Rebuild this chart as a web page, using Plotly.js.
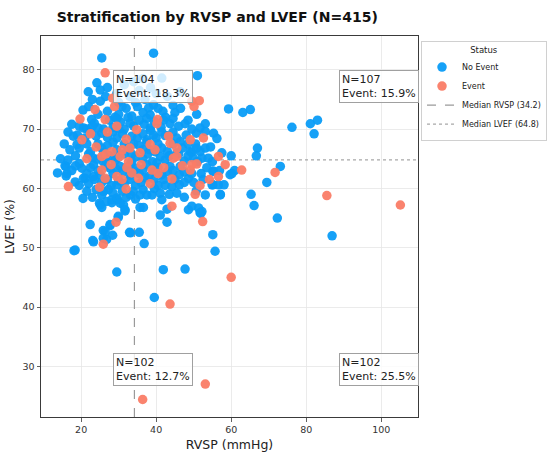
<!DOCTYPE html>
<html>
<head>
<meta charset="utf-8">
<script src="https://cdn.plot.ly/plotly-3.0.1.min.js"></script>
<style>html,body{margin:0;padding:0;background:#fff}#chart{width:550px;height:456px}</style>
</head>
<body>
<div id="chart"></div>
<script>
// ---- data (RVSP mmHg, LVEF %) ----
const noEventPoints = [
[25.5,82.0],[39.3,82.8],[24.2,77.8],[25.1,76.6],[21.9,76.3],[51.0,79.0],[41.5,78.6],[46.4,76.3],[59.3,73.4],[63.1,72.8],[65.1,73.3],[76.2,70.3],[81.1,70.9],[83.0,71.5],[82.1,69.2],[67.0,66.8],[66.7,65.5],[73.1,63.7],[69.5,61.0],[65.3,59.0],[66.1,57.1],[72.3,55.0],[86.9,52.0],[55.1,52.2],[55.7,49.4],[51.7,55.9],[57.1,59.0],[53.1,58.9],[60.2,62.5],[60.9,63.0],[55.1,62.9],[56.9,63.0],[55.1,60.6],[56.6,60.6],[58.1,60.6],[52.2,56.1],[18.4,49.6],[29.5,45.9],[41.9,46.3],[47.7,46.4],[23.1,51.2],[25.9,52.9],[27.7,53.7],[26.8,51.4],[28.4,52.1],[29.9,55.1],[22.4,53.9],[32.9,52.6],[35.5,52.6],[36.8,50.7],[35.7,56.8],[36.6,56.8],[41.1,55.5],[42.9,54.3],[42.9,56.5],[48.6,56.4],[51.3,56.7],[51.9,55.8],[24.9,57.5],[25.5,56.8],[31.3,57.2],[31.7,56.2],[28.2,57.6],[29.7,58.1],[13.7,62.6],[15.7,63.8],[16.2,62.5],[18.4,61.1],[21.1,61.7],[39.5,41.6],
[30.9,73.8],[25.1,74.7],[22.8,71.6],[20.6,70.2],[17.9,68.8],[18.9,67.4],[50.8,72.5],[39.3,74.1],[38.4,72.4],[41.8,73.0],[43.7,70.9],[47.7,70.9],[41.3,70.3],[53.1,70.9],[51.7,70.2],[50.7,69.3],[53.1,69.6],[55.3,69.3],[56.2,68.4],[42.4,68.9],[43.3,68.9],[46.4,67.9],[53.1,66.8],[45.5,66.0],[49.5,66.1],[51.7,66.2],[38.4,70.2],[39.3,69.0],
[16.0,63.7],[16.0,62.1],[20.6,61.7],[20.2,63.4],[23.3,62.0],[23.3,64.0],[24.2,64.9],[25.9,64.5],[27.7,63.4],[30.4,63.7],[33.1,64.0],[34.9,63.4],[37.5,64.0],[39.3,62.9],[29.5,60.6],[27.3,59.8],[25.5,58.9],[26.8,57.8],[28.2,58.1],[29.5,58.4],[30.4,57.5],[33.1,58.9],[33.9,59.5],[35.7,58.9],[37.5,58.9],[25.1,57.2],[27.7,53.9],[29.9,55.3],[26.4,52.7],[23.3,51.0],[25.9,51.6],[33.1,52.5],[31.7,56.4],[18.1,49.5],
[38.4,66.5],[39.7,66.2],[41.1,65.4],[42.4,64.8],[40.2,64.3],[49.1,66.2],[50.8,66.8],[49.9,65.1],[52.2,65.1],[53.9,65.1],[46.4,63.7],[43.7,63.7],[46.2,62.3],[55.3,62.9],[59.7,62.3],[48.6,61.7],[42.4,60.5],[44.2,60.3],[46.2,60.6],[54.9,60.6],[50.7,59.6],[57.1,58.9],[38.9,58.9],[41.1,59.2],[41.5,58.1],[49.5,57.0],
[27.0,77.0],[29.5,76.0],[31.5,77.5],[33.0,75.5],[35.5,76.5],[37.0,75.0],[34.0,78.0],[36.5,78.5],[38.5,77.0],[30.0,74.5],[26.5,75.5],[23.0,75.0],[43.0,75.5],[44.5,74.0],[40.0,76.0],
[20.5,73.2],[24.5,72.5],[27.0,73.0],[30.0,72.5],[32.0,73.5],[33.5,72.2],[35.0,73.8],[36.5,72.8],[38.0,73.6],[40.5,73.5],[42.5,72.0],[45.0,72.8],[46.5,73.5],[22.0,73.8],[29.0,72.0],[34.5,74.5],
[17.5,70.8],[19.5,70.5],[21.5,70.0],[23.5,71.0],[24.5,70.2],[26.0,70.0],[27.5,71.5],[28.5,70.3],[30.5,71.2],[31.5,70.0],[33.0,71.0],[34.0,70.5],[35.5,71.5],[36.8,70.8],[37.5,71.8],[39.5,71.3],[42.0,71.5],[44.5,71.8],[46.0,70.5],[48.5,71.5],[29.5,71.8],[32.5,72.0],
[16.5,69.5],[19.0,69.0],[21.0,68.5],[22.5,69.5],[24.0,68.8],[25.5,69.3],[27.0,68.6],[28.5,69.5],[29.5,68.5],[31.0,69.2],[33.5,68.8],[35.0,68.5],[36.5,69.2],[37.5,68.2],[40.0,68.5],[41.5,69.5],[44.5,69.5],[45.5,68.5],[48.0,69.0],[49.5,70.0],[23.0,70.5],[30.0,70.0],[38.5,69.8],
[15.5,67.5],[17.0,66.5],[19.5,66.8],[21.5,67.5],[22.5,66.2],[24.5,67.5],[25.5,66.8],[27.0,67.2],[28.5,67.8],[29.5,66.5],[31.5,67.5],[32.5,66.8],[34.0,67.5],[35.5,67.2],[36.5,66.5],[37.5,67.8],[40.5,67.5],[41.5,66.8],[43.0,66.2],[44.5,67.5],[47.0,66.8],[48.5,67.5],[50.5,67.5],[54.5,67.0],[26.0,66.0],[33.5,65.8],
[14.5,65.0],[16.5,64.8],[18.5,65.5],[19.5,64.2],[22.0,65.8],[23.0,65.2],[26.5,64.9],[27.5,65.5],[29.0,64.7],[29.8,65.2],[31.5,65.8],[33.5,64.5],[34.5,65.3],[36.5,65.0],[37.8,65.8],[39.0,64.5],[43.5,65.5],[46.0,65.8],[47.5,64.6],[48.5,65.5],[51.0,64.5],[55.0,64.5],[57.5,66.0],[60.0,65.5],
[17.5,63.0],[18.5,63.8],[21.5,62.5],[22.5,63.5],[24.5,63.0],[25.0,62.3],[26.5,63.8],[28.5,62.5],[29.5,63.2],[31.0,62.8],[32.0,63.5],[33.0,62.2],[34.0,62.9],[35.5,62.5],[36.5,63.2],[38.0,62.0],[40.5,63.5],[41.5,62.3],[43.0,62.8],[44.5,63.0],[47.5,62.8],[49.5,62.5],[52.0,62.5],[53.5,63.5],
[19.5,60.5],[22.0,60.8],[23.5,61.5],[25.5,61.0],[27.0,61.5],[28.0,60.5],[30.0,61.3],[31.5,60.8],[33.0,61.5],[34.5,60.5],[36.0,61.0],[37.0,61.8],[39.5,61.5],[40.5,60.5],[42.0,61.5],[45.0,61.5],[47.5,61.0],[50.0,61.0],[52.5,61.5],
[21.5,59.5],[23.0,58.5],[24.0,59.8],[26.0,59.5],[28.5,59.2],[31.0,59.5],[32.0,58.5],[34.5,58.2],[36.5,59.8],[39.5,60.0],[43.5,59.0],[45.5,59.2],[47.5,58.5],[20.5,58.3]
];
const eventPoints = [
[26.4,79.5],[28.4,75.2],[28.9,73.8],[23.7,73.3],[19.7,71.7],[26.4,71.6],[20.2,68.2],[32.0,68.3],[25.5,65.4],[26.6,65.8],[28.2,66.2],[30.4,65.4],[31.0,66.5],[21.5,65.0],[24.0,67.0],[27.0,69.5],[29.5,70.5],[22.5,69.2],[33.0,66.8],
[34.8,69.9],[35.7,66.0],[39.7,66.5],[40.4,71.6],[40.2,70.9],[44.6,65.1],[45.5,65.4],[49.5,74.7],[51.5,74.8],[50.1,73.8],[52.6,68.5],[45.5,66.8],[56.6,65.4],[43.3,68.8],[43.7,67.6],[49.1,68.2],[38.4,67.4],
[16.6,60.3],[25.9,50.6],[29.3,54.3],[32.0,59.9],[25.5,63.1],[26.4,61.7],[29.5,62.0],[30.9,61.5],[24.9,60.2],[33.5,62.6],[32.6,64.5],[32.2,63.5],[28.0,64.0],
[35.3,61.7],[38.4,60.8],[38.9,63.1],[42.0,63.5],[49.5,64.0],[50.8,64.1],[49.1,63.1],[58.4,64.0],[62.8,63.1],[54.2,61.5],[44.2,61.6],[51.7,60.5],[50.4,59.0],[44.2,57.0],[52.4,54.4],[60.0,45.0],[85.5,58.8],[105.1,57.2],[71.7,62.7],[43.7,40.5],[53.1,27.0],[36.4,24.4],[36.0,64.0],[40.5,62.5],[47.0,63.8],[56.6,62.0]
];
const medianRVSP = 34.2;
const medianLVEF = 64.8;
const quadrantLabels = ["N=104<br>Event: 18.3%", "N=107<br>Event: 15.9%", "N=102<br>Event: 12.7%", "N=102<br>Event: 25.5%"];
const xRange = [9.3, 109.8];
const yRange = [21.45, 85.7];

const FONT = "DejaVu Sans, Verdana, sans-serif";
const BLUE = "#0A9CF7";
const RED = "#FA7C66";

const data = [
  {x:[medianRVSP, medianRVSP], y:yRange, mode:"lines", name:"Median RVSP (" + medianRVSP + ")",
   line:{color:"#9a9a9a", width:1.2, dash:"dash"}, hoverinfo:"skip", legendrank:3},
  {x:xRange, y:[medianLVEF, medianLVEF], mode:"lines", name:"Median LVEF (" + medianLVEF + ")",
   line:{color:"#a8a8a8", width:1.2, dash:"dot"}, hoverinfo:"skip", legendrank:4},
  {x:noEventPoints.map(p=>p[0]), y:noEventPoints.map(p=>p[1]), mode:"markers", type:"scatter", name:"No Event",
   marker:{color:BLUE, size:9.5, opacity:0.95, line:{width:0}}, legendrank:1},
  {x:eventPoints.map(p=>p[0]), y:eventPoints.map(p=>p[1]), mode:"markers", type:"scatter", name:"Event",
   marker:{color:RED, size:9.5, opacity:0.95, line:{width:0}}, legendrank:2}
];

const annPos = [[0.19,0.912],[0.79,0.912],[0.19,0.167],[0.79,0.167]];
const annotations = quadrantLabels.map((t,i)=>({
  text:t, xref:"x domain", yref:"y domain", x:annPos[i][0], y:annPos[i][1],
  xanchor:"left", yanchor:"top", align:"left", showarrow:false,
  font:{family:FONT, size:11, color:"#222"},
  bgcolor:"rgba(255,255,255,0.8)", bordercolor:"#a0a0a0", borderwidth:1, borderpad:2
}));

const axisCommon = {
  showgrid:true, gridcolor:"#e6e6e6", gridwidth:0.8, zeroline:false,
  showline:true, linecolor:"#3a3a3a", linewidth:1, mirror:true,
  ticks:"outside", ticklen:3.5, tickcolor:"#3a3a3a", tickwidth:0.8,
  tickfont:{family:FONT, size:9.5, color:"#333"}
};

const layout = {
  width:550, height:456,
  margin:{l:41, r:132, t:36, b:39, autoexpand:false},
  paper_bgcolor:"#fff", plot_bgcolor:"#fff",
  font:{family:FONT, color:"#222"},
  title:{text:"<b>Stratification by RVSP and LVEF (N=415)</b>", x:0.395, xanchor:"center", xref:"container",
         y:0.963, yanchor:"middle", font:{family:FONT, size:14, color:"#111"}},
  xaxis:Object.assign({}, axisCommon, {range:xRange, tickvals:[20,40,60,80,100],
         title:{text:"RVSP (mmHg)", font:{family:FONT, size:12.5, color:"#222"}, standoff:6}}),
  yaxis:Object.assign({}, axisCommon, {range:yRange, tickvals:[30,40,50,60,70,80],
         title:{text:"LVEF (%)", font:{family:FONT, size:12.5, color:"#222"}, standoff:5}}),
  showlegend:true,
  legend:{x:1.008, y:0.988, xanchor:"left", yanchor:"top",
          bgcolor:"#fff", bordercolor:"#d0d0d0", borderwidth:1,
          font:{family:FONT, size:8, color:"#222"},
          title:{text:"Status", side:"top center", font:{family:FONT, size:8.5, color:"#222"}},
          itemwidth:30, tracegroupgap:0},
  annotations:annotations
};

Plotly.newPlot("chart", data, layout, {displayModeBar:false, staticPlot:true});
</script>
</body>
</html>
